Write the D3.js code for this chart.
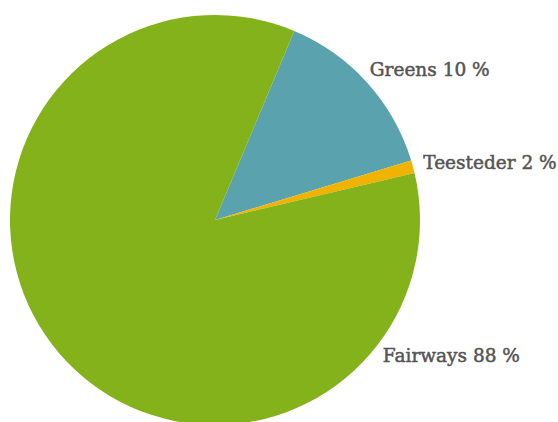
<!DOCTYPE html>
<html>
<head>
<meta charset="utf-8">
<script src="https://cdn.jsdelivr.net/npm/d3@7"></script>
<style>
  html, body { margin: 0; padding: 0; background: #fff; }
  svg { display: block; }
</style>
</head>
<body>
<svg id="chart" width="558" height="422"></svg>
<script>
// Data
const categories = ["Greens", "Teesteder", "Fairways"];
const sliceValues = [14, 1, 85];          // visual shares
const labelPercents = [10, 2, 88];        // percentages printed in the labels
const colors = ["#5aa3ae", "#f0b400", "#84b21a"];
const labelAngles = [45.8, 74.6, 129];    // label directions, degrees clockwise from top

const svg = d3.select("#chart");
const cx = 215, cy = 220, r = 205, labelR = 216;
const startDeg = 22.75;

const pie = d3.pie().sort(null).value(d => d.v)
  .startAngle(startDeg * Math.PI / 180)
  .endAngle((startDeg + 360) * Math.PI / 180);
const data = categories.map((c, i) => ({ c, v: sliceValues[i], p: labelPercents[i], col: colors[i], la: labelAngles[i] }));
const arcs = pie(data);
const arc = d3.arc().innerRadius(0).outerRadius(r);

const g = svg.append("g").attr("transform", `translate(${cx},${cy})`);
g.selectAll("path").data(arcs).join("path")
  .attr("d", arc)
  .attr("fill", d => d.data.col);

g.selectAll("text").data(arcs).join("text")
  .attr("x", d => Math.sin(d.data.la * Math.PI / 180) * labelR)
  .attr("y", d => -Math.cos(d.data.la * Math.PI / 180) * labelR)
  .attr("dy", "0.35em")
  .attr("text-anchor", "start")
  .attr("font-family", "DejaVu Serif, serif")
  .attr("font-size", 18.5)
  .attr("font-weight", "normal")
  .attr("fill", "#555555")
  .attr("stroke", "#555555")
  .attr("stroke-width", 0.5)
  .text(d => `${d.data.c} ${d.data.p} %`);
</script>
</body>
</html>
